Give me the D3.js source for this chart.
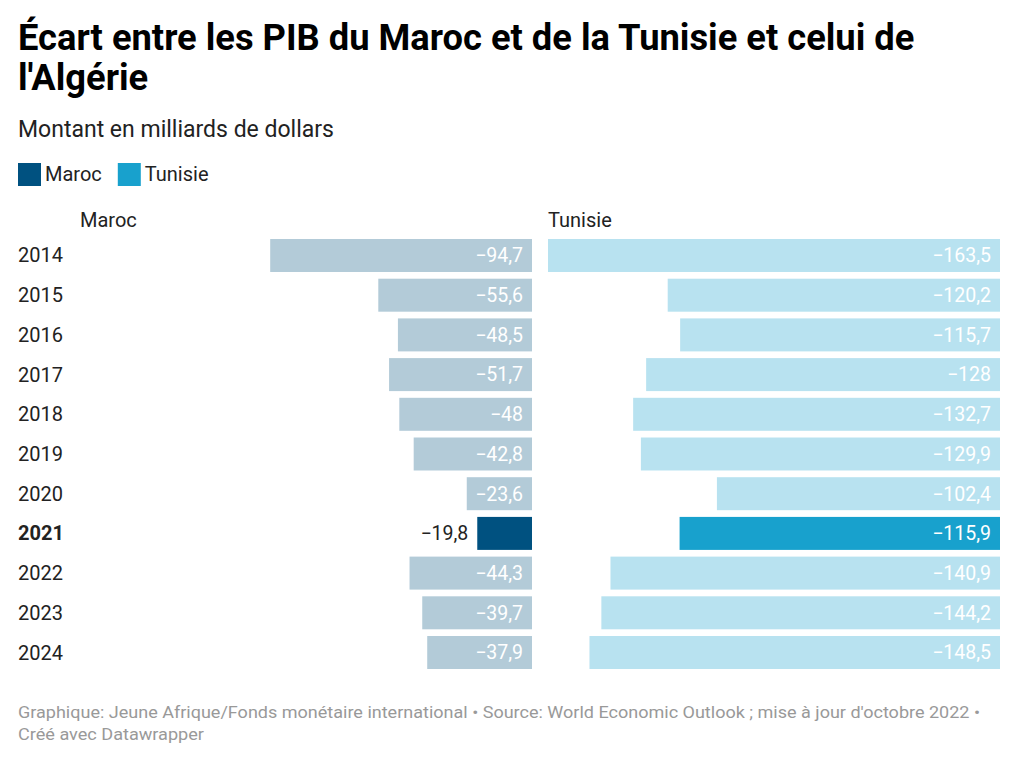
<!DOCTYPE html>
<html><head><meta charset="utf-8">
<script src="https://cdn.jsdelivr.net/npm/d3@7"></script>
<style>body{margin:0;background:#fff;font-family:Roboto,sans-serif}</style>
</head><body><svg id="c" width="1024" height="763"></svg>
<script>
const years = ["2014","2015","2016","2017","2018","2019","2020","2021","2022","2023","2024"];
const maroc = [-94.7,-55.6,-48.5,-51.7,-48,-42.8,-23.6,-19.8,-44.3,-39.7,-37.9];
const tunisie = [-163.5,-120.2,-115.7,-128,-132.7,-129.9,-102.4,-115.9,-140.9,-144.2,-148.5];
const highlightYear = "2021";
const seriesNames = ["Maroc","Tunisie"];

const svg = d3.select("#c");
const fmt = v => "\u2212" + String(Math.abs(v)).replace(".", ",");

svg.append("text").attr("x",18).attr("y",50).attr("font-size",36.3).attr("font-weight",700).attr("fill","#000")
  .text("Écart entre les PIB du Maroc et de la Tunisie et celui de");
svg.append("text").attr("x",18).attr("y",90).attr("font-size",36.3).attr("font-weight",700).attr("fill","#000")
  .text("l'Algérie");
svg.append("text").attr("x",18).attr("y",137).attr("font-size",23).attr("fill","#222")
  .text("Montant en milliards de dollars");

const legendColors = ["#005180","#18a1cd"];
const lg = svg.append("g");
let lx = 18;
seriesNames.forEach((n,i)=>{
  lg.append("rect").attr("x",lx).attr("y",163).attr("width",23).attr("height",23).attr("fill",legendColors[i]);
  const t = lg.append("text").attr("x",lx+27).attr("y",181).attr("font-size",20).attr("fill","#222").text(n);
  lx += 27 + t.node().getComputedTextLength() + 16;
});

const y = d3.scaleBand().domain(years).range([239, 669]).paddingInner(0.169).paddingOuter(0);
const maxV = d3.max([...maroc, ...tunisie], d => Math.abs(d));
const w = d3.scaleLinear().domain([0, maxV]).range([0, 452]);

svg.append("g").selectAll("text").data(years).join("text")
  .attr("x",18).attr("y",d=>y(d)+y.bandwidth()/2).attr("dy","0.35em")
  .attr("font-size",20).attr("fill","#222").attr("font-weight",d=>d===highlightYear?700:400)
  .text(d=>d);

const panels = [
  {name:"Maroc", vals:maroc, x0:80, x1:532, hi:"#005180", lo:"#b3cbd8"},
  {name:"Tunisie", vals:tunisie, x0:548, x1:1000, hi:"#18a1cd", lo:"#b8e2f0"}
];
panels.forEach(p=>{
  const g = svg.append("g");
  g.append("text").attr("x",p.x0).attr("y",227).attr("font-size",20).attr("fill","#222").text(p.name);
  const data = years.map((yr,i)=>({yr, v:p.vals[i]}));
  g.selectAll("rect").data(data).join("rect")
    .attr("x",d=>p.x1 - w(Math.abs(d.v))).attr("y",d=>y(d.yr))
    .attr("width",d=>w(Math.abs(d.v))).attr("height",y.bandwidth())
    .attr("fill",d=>d.yr===highlightYear?p.hi:p.lo);
  g.selectAll("text.val").data(data).join("text").attr("class","val")
    .attr("font-size",19.5).attr("y",d=>y(d.yr)+y.bandwidth()/2).attr("dy","0.35em")
    .each(function(d){
      const t = d3.select(this).text(fmt(d.v));
      const tw = this.getComputedTextLength();
      const bw = w(Math.abs(d.v));
      if (tw + 12 > bw) {
        t.attr("x", p.x1 - bw - 9).attr("text-anchor","end").attr("fill","#222");
      } else {
        t.attr("x", p.x1 - 9).attr("text-anchor","end").attr("fill","#fff");
      }
    });
});

svg.append("text").attr("x",18).attr("y",718).attr("font-size",16).attr("fill","#999")
  .attr("textLength",962).attr("lengthAdjust","spacingAndGlyphs")
  .text("Graphique: Jeune Afrique/Fonds monétaire international • Source: World Economic Outlook ; mise à jour d'octobre 2022 •");
svg.append("text").attr("x",18).attr("y",740).attr("font-size",16).attr("fill","#999")
  .attr("textLength",186).attr("lengthAdjust","spacingAndGlyphs")
  .text("Créé avec Datawrapper");
</script></body></html>
